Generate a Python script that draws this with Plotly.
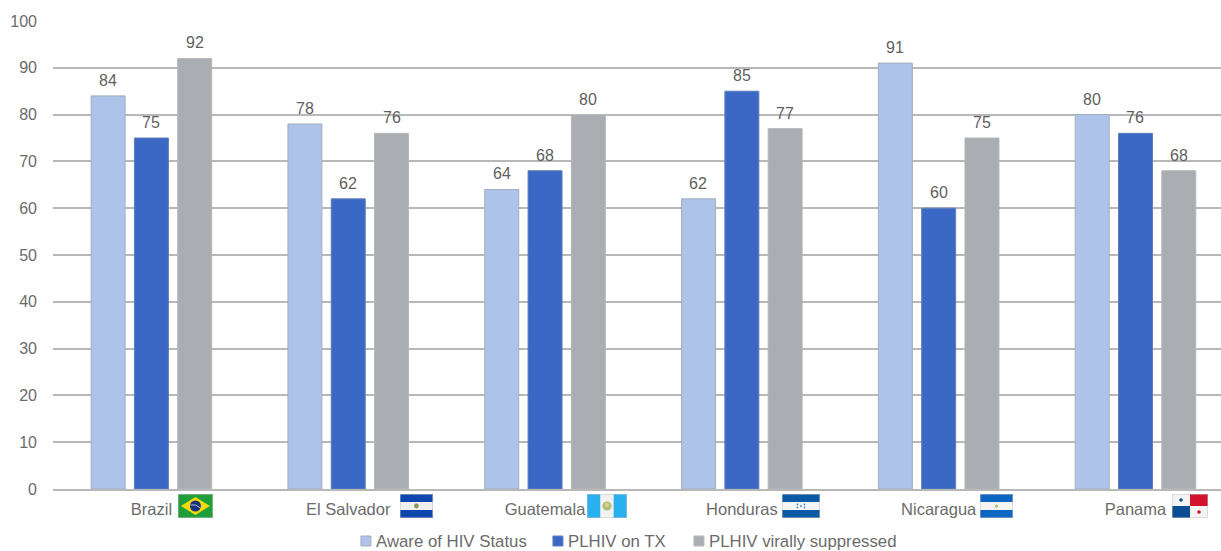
import base64
import plotly.graph_objects as go

countries = ["Brazil", "El Salvador", "Guatemala", "Honduras", "Nicaragua", "Panama"]
aware = [84, 78, 64, 62, 91, 80]
on_tx = [75, 62, 68, 85, 60, 76]
suppressed = [92, 76, 80, 77, 75, 68]
y_ticks = list(range(0, 101, 10))

W, H = 1221, 551
L, T, B = 53.1, 21, 489
GROUP = 196.8
SLOT = 43.4

FLAGS = {
    "Brazil": (178, 213, '<rect width="35" height="24" fill="#1f9e3a"/>'
               '<path d="M17.5 3 L32 12 L17.5 21 L3 12Z" fill="#f5d90a"/>'
               '<circle cx="17.5" cy="12" r="5.5" fill="#17307f"/>'
               '<path d="M12.5 11 Q18 9.5 22.5 14" stroke="#dfe6ee" fill="none" stroke-width="0.8"/>', 35),
    "El Salvador": (400, 433, '<rect width="33" height="24" fill="#0f47af"/>'
                    '<rect y="8" width="33" height="8" fill="#f0f0f0"/>'
                    '<circle cx="16.5" cy="12" r="2.4" fill="#8a9a55"/>', 33),
    "Guatemala": (587, 627, '<rect width="40" height="24" fill="#2bb0ee"/>'
                  '<rect x="13.3" width="13.4" height="24" fill="#f2f2f2"/>'
                  '<circle cx="20" cy="12" r="4.6" fill="#b5bd7a"/>'
                  '<circle cx="20" cy="11" r="2" fill="#e0d68a"/>', 40),
    "Honduras": (782, 820, '<rect width="38" height="24" fill="#0b5aa5"/>'
                 '<rect y="8" width="38" height="8" fill="#f5f5f5"/>'
                 '<g fill="#4a90d0"><circle cx="19" cy="12" r="1"/><circle cx="15.5" cy="10.5" r="0.9"/>'
                 '<circle cx="22.5" cy="10.5" r="0.9"/><circle cx="15.5" cy="13.5" r="0.9"/>'
                 '<circle cx="22.5" cy="13.5" r="0.9"/></g>', 38),
    "Nicaragua": (980, 1013, '<rect width="33" height="24" fill="#0d67c2"/>'
                  '<rect y="8" width="33" height="8" fill="#f5f5f5"/>'
                  '<circle cx="16.5" cy="12" r="1.5" fill="#a6bf60"/>', 33),
    "Panama": (1172, 1208, '<rect width="36" height="24" fill="#f4f4f4"/>'
               '<rect x="18" width="18" height="12" fill="#d2122e"/>'
               '<rect y="12" width="18" height="12" fill="#0b4d94"/>'
               '<circle cx="9" cy="6" r="1.8" fill="#0b4d94"/>'
               '<circle cx="27" cy="18" r="1.8" fill="#d2122e"/>', 36),
}


def flag_uri(body, w):
    outline = (f'<rect x="0.25" y="0.25" width="{w - 0.5}" height="23.5" fill="none" '
               'stroke="#c4c4c4" stroke-width="0.5"/>')
    svg = (f'<svg xmlns="http://www.w3.org/2000/svg" width="{w}" height="24" '
           f'viewBox="0 0 {w} 24">{body}{outline}</svg>')
    return "data:image/svg+xml;base64," + base64.b64encode(svg.encode()).decode()


def px(x):
    return (x - L) / (W - L)


def py(y):
    return (B - y) / (B - T)


FONT = "Liberation Sans, Arial, sans-serif"
TEXT = "#6b6b6b"

series = [
    ("Aware of HIV Status", aware, "#aec3e9", "#a3aebd", 361),
    ("PLHIV on TX", on_tx, "#3a68c4", "#5f7fb8", 553),
    ("PLHIV virally suppressed", suppressed, "#aaaeb3", "#b4b7bb", 694),
]

fig = go.Figure()
annotations = []
shapes = []
for i, (name, values, fill, edge, key_x) in enumerate(series):
    fig.add_trace(go.Bar(
        name=name, x=countries, y=values,
        marker=dict(color=fill, line=dict(color=edge, width=1)),
    ))
    # value labels sit a few pixels clear of each bar
    for country, value in zip(countries, values):
        annotations.append(dict(
            x=country, y=value, xref="x", yref="y", text=str(value),
            showarrow=False, xshift=(i - 1) * SLOT, yshift=5, yanchor="bottom",
            font=dict(family=FONT, size=16, color="#5f5f5f"),
        ))
    # key entry below the axis
    shapes.append(dict(
        type="rect", xref="paper", yref="paper", layer="above",
        x0=px(key_x), x1=px(key_x + 10), y0=py(536), y1=py(546),
        fillcolor=fill, line=dict(color=edge, width=1),
    ))
    annotations.append(dict(
        x=px(key_x + 13), y=py(541), xref="paper", yref="paper", text=name,
        showarrow=False, xanchor="left", yanchor="middle",
        font=dict(family=FONT, size=16.8, color=TEXT),
    ))

images = [
    dict(source=flag_uri(body, w), xref="paper", yref="paper",
         x=px(x0), y=py(494), sizex=(x1 - x0) / (W - L), sizey=24 / (B - T),
         xanchor="left", yanchor="top", sizing="stretch", layer="above")
    for x0, x1, body, w in FLAGS.values()
]

fig.update_layout(
    width=W, height=H, autosize=False,
    margin=dict(l=L, r=0, t=T, b=H - B, pad=0, autoexpand=False),
    paper_bgcolor="white", plot_bgcolor="white",
    barmode="group", bargap=0.34, bargroupgap=0.215,
    font=dict(family=FONT, size=15, color=TEXT),
    images=images, shapes=shapes, annotations=annotations,
    showlegend=False,
    xaxis=dict(range=[-0.5, (W - L) / GROUP - 0.5], type="category",
               categoryorder="array", categoryarray=countries,
               showgrid=False, ticks="", showline=True, tickangle=0,
               automargin=False, linecolor="#b8b8b8", linewidth=2,
               ticklabelstandoff=4,
               tickfont=dict(family=FONT, size=16.5, color=TEXT)),
    yaxis=dict(range=[0, 100], tickvals=y_ticks, showgrid=True,
               gridcolor="#b8b8b8", gridwidth=2, zeroline=False,
               ticks="", ticklen=0, showline=False, automargin=False,
               ticklabelstandoff=15,
               tickfont=dict(family=FONT, size=16, color=TEXT)),
)
fig.write_html("out.html")
